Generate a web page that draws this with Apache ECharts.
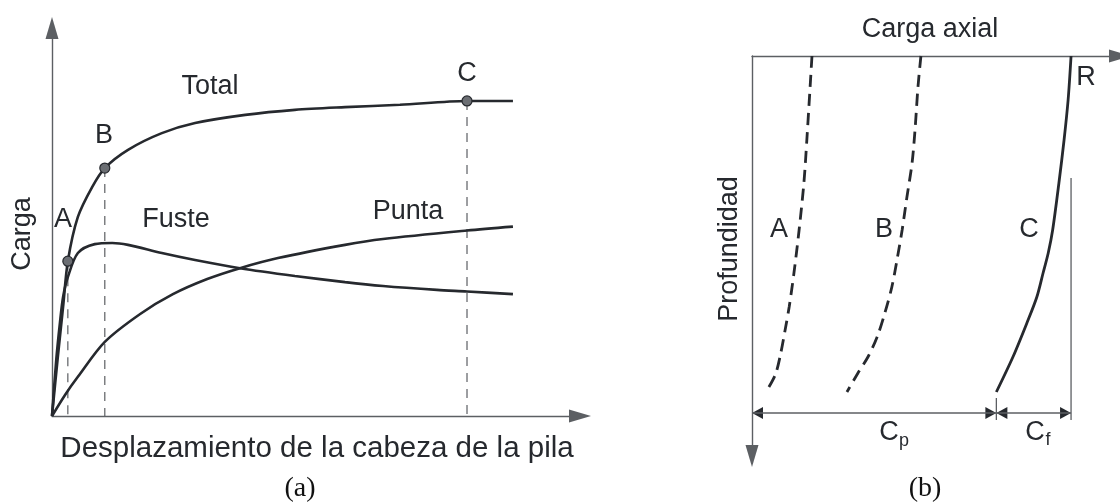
<!DOCTYPE html>
<html>
<head>
<meta charset="utf-8">
<script src="https://cdn.jsdelivr.net/npm/echarts@6/dist/echarts.min.js"></script>
<style>
  html, body { margin: 0; padding: 0; background: #fff; }
  #main { width: 1120px; height: 502px; }
</style>
</head>
<body>
<div id="main"></div>
<script>
// (a) carga vs desplazamiento de la cabeza (unidades relativas 0-100)
const totalX = [0, 1.1, 2.1, 3.0, 4.9, 7.6, 10.0, 14.4, 20.8, 27.1, 36.6, 46.0, 55.5, 65.9, 78.6, 87.3];
const totalY = [0, 15.2, 28.1, 39.9, 51.3, 59.0, 63.9, 68.6, 72.9, 75.5, 77.6, 78.9, 79.6, 80.2, 81.2, 81.2];
const fusteX = [0, 0.8, 1.5, 2.1, 3.0, 4.9, 8.1, 11.4, 14.4, 20.8, 27.1, 35.6, 46.0, 55.5, 62.7, 72.9, 78.6, 87.3];
const fusteY = [0, 14.4, 24.0, 30.7, 35.8, 42.0, 44.3, 44.6, 44.1, 42.0, 40.2, 38.1, 36.1, 34.5, 33.5, 32.5, 32.1, 31.4];
const puntaX = [0, 2.5, 4.9, 10.0, 16.7, 22.9, 29.4, 35.6, 42.8, 55.5, 62.7, 78.6, 87.3];
const puntaY = [0, 5.5, 10.1, 19.1, 26.3, 31.4, 35.3, 38.1, 40.7, 44.1, 45.6, 47.8, 48.8];
const puntosNombre = ['A', 'B', 'C'];
const puntosX = [3.0, 10.0, 78.6];
const puntosY = [39.9, 63.9, 81.2];

// (b) carga axial vs profundidad (unidades relativas 0-100)
const profA = [0, 21, 31.75, 43.5, 54.25, 62.75, 68.5, 75.25, 79.75, 84];
const cargaA = [16.3, 14.9, 14.1, 12.8, 11.4, 10.1, 9.0, 7.6, 6.3, 3.8];
const profB = [0, 7.75, 18.5, 26.75, 35.25, 43.5, 51, 57.75, 64.25, 70.25, 75.25, 79.25, 84];
const cargaB = [45.9, 45.1, 44.3, 43.5, 42.1, 40.8, 39.4, 38.0, 36.1, 34.0, 31.5, 28.8, 25.8];
const profC = [0, 11, 21, 31.75, 43.5, 49.25, 54.25, 60.25, 66.75, 75.25, 84];
const cargaC = [86.7, 85.9, 84.8, 83.4, 81.7, 80.5, 79.1, 77.4, 74.7, 70.9, 66.4];

const zip = (xs, ys) => xs.map((x, i) => [x, ys[i]]);

const tinta = '#26292e';
const gris = '#5c5f63';
const fuente = '"Liberation Sans", Arial, sans-serif';

var chartDom = document.getElementById('main');
var myChart = echarts.init(chartDom);

// ejes sin marcas, solo la linea con flecha
function eje(extra, flecha) {
  return Object.assign({
    type: 'value',
    min: 0,
    max: 100,
    axisTick: { show: false },
    axisLabel: { show: false },
    splitLine: { show: false },
    axisLine: {
      onZero: false,
      symbol: flecha || ['none', 'triangle'],
      symbolSize: [13, 22],
      lineStyle: { color: gris, width: 1.4 }
    }
  }, extra);
}

function curva(data, extra) {
  return Object.assign({
    type: 'line',
    data: data,
    smooth: 0.3,
    showSymbol: false,
    clip: false,
    silent: true,
    lineStyle: { color: tinta, width: 2.6 }
  }, extra);
}

function texto(t, x, y, size, extra) {
  return Object.assign({
    type: 'text',
    x: x,
    y: y,
    silent: true,
    style: {
      text: t,
      fill: tinta,
      font: size + 'px ' + fuente,
      align: 'center',
      verticalAlign: 'middle'
    }
  }, extra);
}

// cotas de la figura (b)
const cargaPunta = cargaC[cargaC.length - 1];
const cargaTotal = cargaC[0];
const nivelCota = 89.25;

const delgada = { color: gris, width: 1.3 };

var option = {
  animation: false,
  grid: [
    { left: 52, top: 28, width: 528, height: 388 },
    { left: 752, top: 56, width: 368, height: 400 }
  ],
  xAxis: [
    eje({ gridIndex: 0 }),
    eje({ gridIndex: 1, position: 'top' })
  ],
  yAxis: [
    eje({ gridIndex: 0 }),
    // eje invertido: la flecha va en el otro extremo
    eje({ gridIndex: 1, inverse: true }, ['triangle', 'none'])
  ],
  series: [
    // (a) lineas de referencia punteadas
    ...puntosX.map((x, i) => curva([[x, puntosY[i]], [x, 0]], {
      smooth: false,
      z: 1,
      lineStyle: { color: gris, width: 1.2, type: [9, 7] }
    })),
    curva(zip(totalX, totalY), { name: 'Total' }),
    curva(zip(fusteX, fusteY), { name: 'Fuste' }),
    curva(zip(puntaX, puntaY), { name: 'Punta' }),
    {
      type: 'scatter',
      silent: true,
      symbolSize: 10,
      z: 5,
      itemStyle: { color: '#6b6e73', borderColor: tinta, borderWidth: 1.2, opacity: 1 },
      data: zip(puntosX, puntosY)
    },
    // (b) distribucion de carga axial
    curva(zip(cargaA, profA), {
      xAxisIndex: 1, yAxisIndex: 1,
      lineStyle: { color: tinta, width: 2.8, type: [12, 7] }
    }),
    curva(zip(cargaB, profB), {
      xAxisIndex: 1, yAxisIndex: 1,
      lineStyle: { color: tinta, width: 2.8, type: [12, 7] }
    }),
    curva(zip(cargaC, profC), {
      xAxisIndex: 1, yAxisIndex: 1,
      lineStyle: { color: tinta, width: 2.8 }
    }),
    curva([[cargaTotal, 30.5], [cargaTotal, 91]], {
      xAxisIndex: 1, yAxisIndex: 1, smooth: false, lineStyle: delgada
    }),
    curva([[cargaPunta, 85.5], [cargaPunta, 91]], {
      xAxisIndex: 1, yAxisIndex: 1, smooth: false, lineStyle: delgada
    }),
    curva([[0, nivelCota], [cargaTotal, nivelCota]], {
      xAxisIndex: 1, yAxisIndex: 1, smooth: false, lineStyle: delgada
    }),
    {
      type: 'scatter',
      xAxisIndex: 1,
      yAxisIndex: 1,
      silent: true,
      symbol: 'triangle',
      symbolSize: [12, 11],
      itemStyle: { color: tinta, opacity: 1 },
      data: [
        { value: [0, nivelCota], symbolRotate: 90, symbolOffset: [5.5, 0] },
        { value: [cargaPunta, nivelCota], symbolRotate: -90, symbolOffset: [-5.5, 0] },
        { value: [cargaPunta, nivelCota], symbolRotate: 90, symbolOffset: [5.5, 0] },
        { value: [cargaTotal, nivelCota], symbolRotate: -90, symbolOffset: [-5.5, 0] }
      ]
    }
  ],
  graphic: [
    // (a)
    texto('Carga', 23, 234, 27, { rotation: Math.PI / 2 }),
    texto('Desplazamiento de la cabeza de la pila', 317, 449, 29.5),
    texto('Total', 210, 87, 27),
    texto('Fuste', 176, 220, 27),
    texto('Punta', 408, 212, 27),
    texto(puntosNombre[0], 63, 220, 27),
    texto(puntosNombre[1], 104, 136, 27),
    texto(puntosNombre[2], 467, 74, 27),
    {
      type: 'text', x: 300, y: 489, silent: true,
      style: { text: '(a)', fill: '#111', font: '28px "Liberation Serif", serif', align: 'center', verticalAlign: 'middle' }
    },
    // (b)
    texto('Carga axial', 930, 30, 27),
    texto('Profundidad', 730, 249, 27, { rotation: Math.PI / 2 }),
    texto('R', 1086, 78, 27),
    texto('A', 779, 230, 27),
    texto('B', 884, 230, 27),
    texto('C', 1029, 230, 27),
    texto('C', 889, 433, 27),
    texto('p', 904, 441, 18),
    texto('C', 1035, 433, 27),
    texto('f', 1048, 440, 18),
    {
      type: 'text', x: 925, y: 489, silent: true,
      style: { text: '(b)', fill: '#111', font: '28px "Liberation Serif", serif', align: 'center', verticalAlign: 'middle' }
    }
  ]
};

option && myChart.setOption(option);
</script>
</body>
</html>
